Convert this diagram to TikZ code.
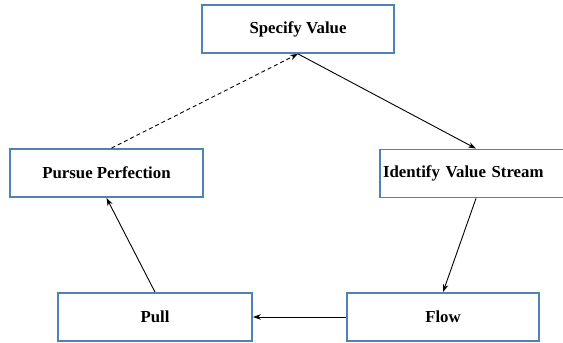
\documentclass[tikz,border=0pt]{standalone}
\usepackage{fontspec}
\setmainfont{Liberation Serif}
\usetikzlibrary{arrows.meta}
\definecolor{boxblue}{RGB}{79,129,189}
\tikzset{
  stagebox/.style={draw=boxblue, line width=1.8pt, fill=white,
    minimum width=192pt, minimum height=48pt, inner sep=3pt,
    font=\fontsize{16.8}{20}\selectfont\bfseries},
  flowarrow/.style={line width=0.9pt, -{Stealth[length=8pt,width=5.5pt]}},
}
\begin{document}
\begin{tikzpicture}[x=1pt,y=1pt]
  \clip (0,0) rectangle (563,343);
  \fill[white] (0,0) rectangle (563,343);

  \node[stagebox] (spec) at (298,314) {Specify Value};
  \node[stagebox, minimum width=193pt] (pursue) at (106.5,170) {Pursue Perfection};
  \node[stagebox, text width=186pt, align=left] (ident) at (476,169.5) {Identify Value Stream};
  \node[stagebox, minimum width=194pt] (pull) at (155,26) {Pull};
  \node[stagebox] (flow) at (443,26) {Flow};

  \draw[flowarrow] (spec.south) -- (ident.north);
  \draw[flowarrow] (ident.south) -- (flow.north);
  \draw[flowarrow] (flow.west) -- (pull.east);
  \draw[flowarrow] (pull.north) -- (pursue.south);
  \draw[flowarrow, dash pattern=on 4pt off 3pt] ([xshift=5pt]pursue.north) -- (spec.south);
\end{tikzpicture}
\end{document}
